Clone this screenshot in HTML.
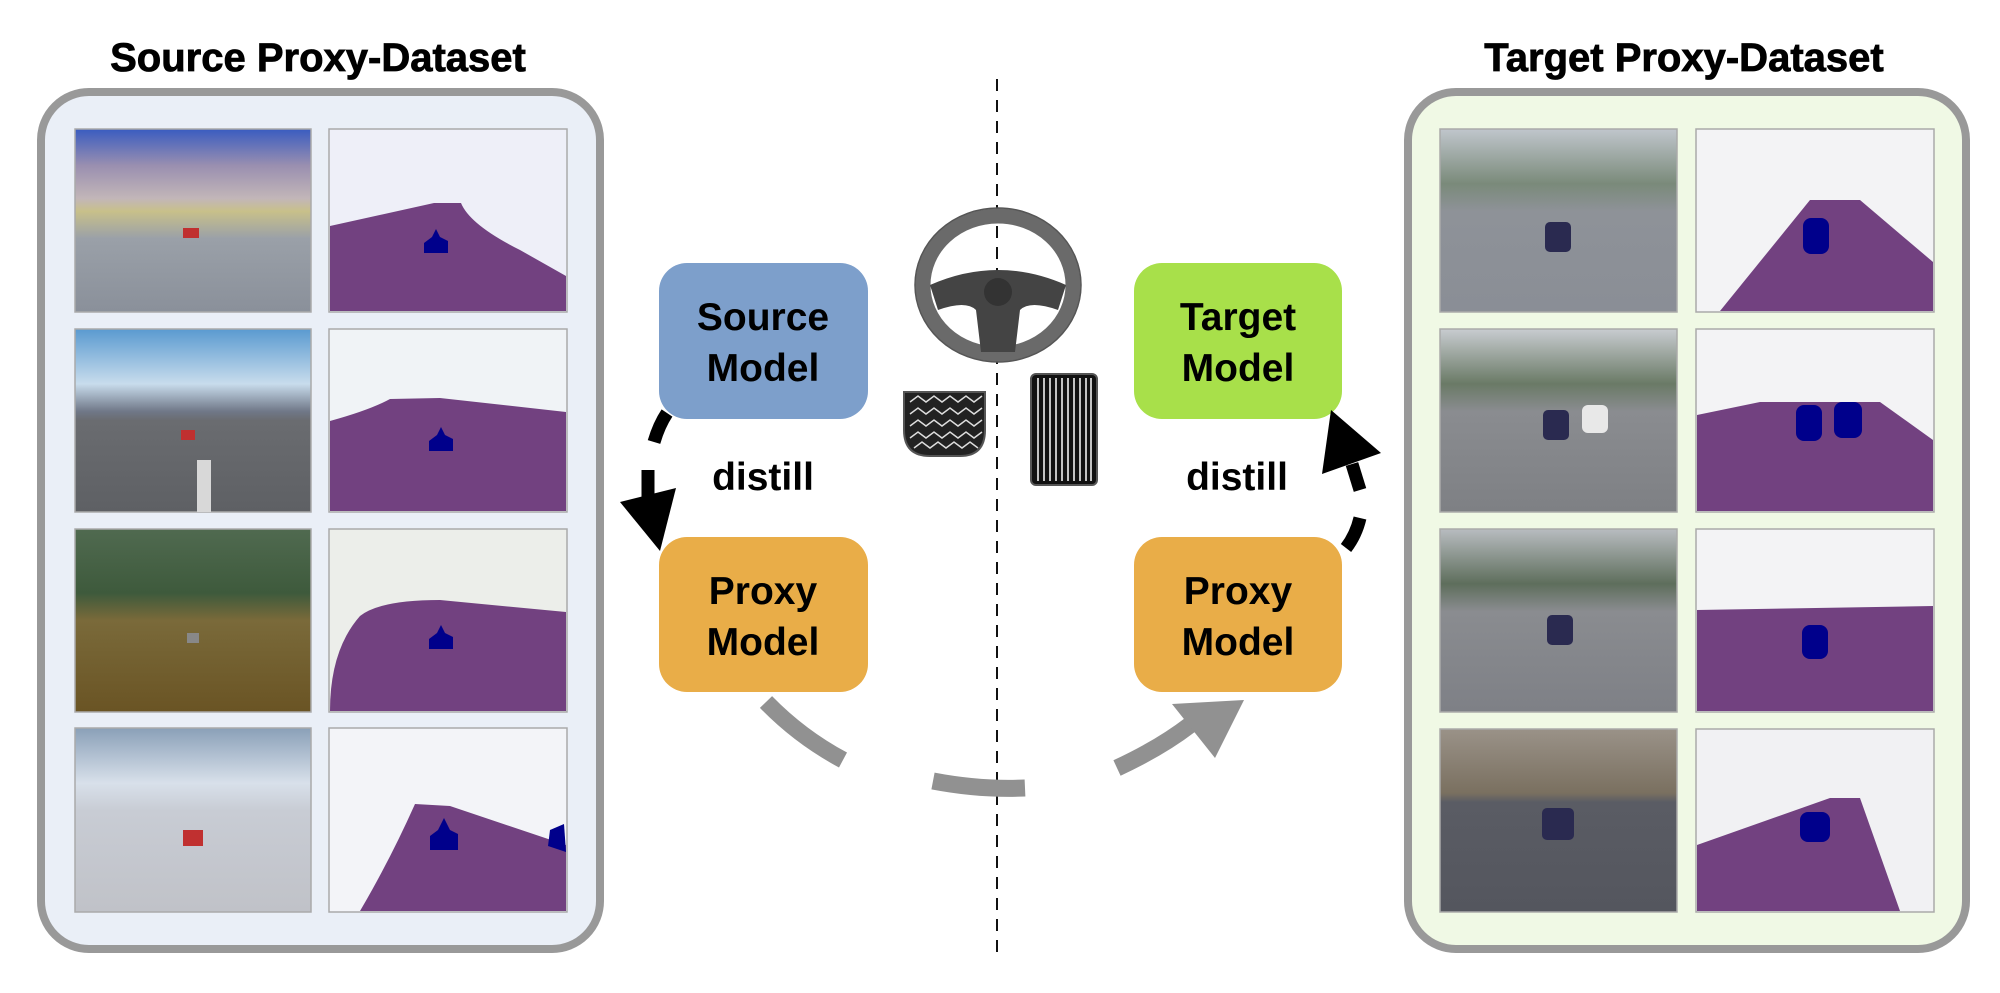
<!DOCTYPE html>
<html><head><meta charset="utf-8"><style>
html,body{margin:0;padding:0;background:#fff}
svg{display:block}
text{font-family:"Liberation Sans",Arial,sans-serif;font-weight:bold}
</style></head><body>
<svg width="2000" height="993" viewBox="0 0 2000 993" xmlns="http://www.w3.org/2000/svg">
<defs>
 <linearGradient id="p1" x1="0" y1="0" x2="0" y2="1"><stop offset="0" stop-color="#3a5cc0"/><stop offset="0.2" stop-color="#9a8fb0"/><stop offset="0.38" stop-color="#c2b6b8"/><stop offset="0.45" stop-color="#c8c08a"/><stop offset="0.6" stop-color="#9aa0a8"/><stop offset="1" stop-color="#8a909a"/></linearGradient>
 <linearGradient id="p2" x1="0" y1="0" x2="0" y2="1"><stop offset="0" stop-color="#5a9ad0"/><stop offset="0.3" stop-color="#c8dcec"/><stop offset="0.45" stop-color="#707888"/><stop offset="0.5" stop-color="#6a6c70"/><stop offset="1" stop-color="#5e6064"/></linearGradient>
 <linearGradient id="p3" x1="0" y1="0" x2="0" y2="1"><stop offset="0" stop-color="#506a50"/><stop offset="0.35" stop-color="#3e5a3c"/><stop offset="0.5" stop-color="#7a6a3a"/><stop offset="1" stop-color="#6a5424"/></linearGradient>
 <linearGradient id="p4" x1="0" y1="0" x2="0" y2="1"><stop offset="0" stop-color="#8aa0b8"/><stop offset="0.3" stop-color="#d8e0ea"/><stop offset="0.45" stop-color="#c8ccd4"/><stop offset="1" stop-color="#c0c2c8"/></linearGradient>
 <linearGradient id="t1" x1="0" y1="0" x2="0" y2="1"><stop offset="0" stop-color="#c0c6cc"/><stop offset="0.3" stop-color="#7a8a7a"/><stop offset="0.45" stop-color="#8e9298"/><stop offset="1" stop-color="#8a8e96"/></linearGradient>
 <linearGradient id="t2" x1="0" y1="0" x2="0" y2="1"><stop offset="0" stop-color="#c8ccd0"/><stop offset="0.3" stop-color="#6a7a66"/><stop offset="0.45" stop-color="#8a8c90"/><stop offset="1" stop-color="#7e8084"/></linearGradient>
 <linearGradient id="t3" x1="0" y1="0" x2="0" y2="1"><stop offset="0" stop-color="#b8bcc0"/><stop offset="0.3" stop-color="#5e6e5c"/><stop offset="0.45" stop-color="#8a8c90"/><stop offset="1" stop-color="#7e8086"/></linearGradient>
 <linearGradient id="t4" x1="0" y1="0" x2="0" y2="1"><stop offset="0" stop-color="#9a9288"/><stop offset="0.35" stop-color="#7a7060"/><stop offset="0.4" stop-color="#5a5c64"/><stop offset="1" stop-color="#54565e"/></linearGradient>
</defs>

<!-- titles -->
<text x="318" y="71" font-size="40" text-anchor="middle" stroke="#000" stroke-width="0.8">Source Proxy-Dataset</text>
<text x="1684" y="71" font-size="40" text-anchor="middle" stroke="#000" stroke-width="0.8">Target Proxy-Dataset</text>

<!-- panels -->
<rect x="41" y="92" width="559" height="857" rx="48" fill="#eaeff7" stroke="#999" stroke-width="8"/>
<rect x="1408" y="92" width="558" height="857" rx="48" fill="#f0f9e5" stroke="#999" stroke-width="8"/>

<!-- left images -->
<g stroke="#aaa" stroke-width="1.5">
 <rect x="75" y="129" width="236" height="183" fill="url(#p1)"/>
 <rect x="75" y="329" width="236" height="183" fill="url(#p2)"/>
 <rect x="75" y="529" width="236" height="183" fill="url(#p3)"/>
 <rect x="75" y="728" width="236" height="184" fill="url(#p4)"/>
 <rect x="329" y="129" width="238" height="183" fill="#eeeff8"/>
 <rect x="329" y="329" width="238" height="183" fill="#f0f3f6"/>
 <rect x="329" y="529" width="238" height="183" fill="#eceeea"/>
 <rect x="329" y="728" width="238" height="184" fill="#f3f4f8"/>
</g>
<g fill="#724180">
 <path d="M330 226 L434 203 L461 203 Q470 225 520 250 L566 276 L566 311 L330 311 Z"/>
 <path d="M330 421 Q370 410 390 399 L440 398 L566 412 L566 511 L330 511 Z"/>
 <path d="M360 616 Q380 600 440 600 L566 612 L566 711 L330 711 Q330 650 360 616 Z"/>
 <path d="M415 804 L450 806 L566 845 L566 911 L360 911 Q390 860 415 804 Z"/>
</g>
<g fill="#00008b">
 <path d="M432 237 l4 -8 l4 8 l8 4 l0 12 l-24 0 l0 -10 Z"/>
 <path d="M437 435 l4 -8 l4 8 l8 4 l0 12 l-24 0 l0 -10 Z"/>
 <path d="M437 633 l4 -8 l4 8 l8 4 l0 12 l-24 0 l0 -10 Z"/>
 <path d="M438 830 l6 -12 l6 12 l8 4 l0 16 l-28 0 l0 -14 Z"/>
 <path d="M550 830 l14 -6 l2 28 l-18 -6 Z"/>
</g>
<g fill="#c03030"><rect x="183" y="228" width="16" height="10"/><rect x="181" y="430" width="14" height="10"/><rect x="187" y="633" width="12" height="10" fill="#888"/><rect x="183" y="830" width="20" height="16"/></g>
<rect x="197" y="460" width="14" height="52" fill="#d8d8d8"/>

<!-- right images -->
<g stroke="#aaa" stroke-width="1.5">
 <rect x="1440" y="129" width="237" height="183" fill="url(#t1)"/>
 <rect x="1440" y="329" width="237" height="183" fill="url(#t2)"/>
 <rect x="1440" y="529" width="237" height="183" fill="url(#t3)"/>
 <rect x="1440" y="729" width="237" height="183" fill="url(#t4)"/>
 <rect x="1696" y="129" width="238" height="183" fill="#f3f3f5"/>
 <rect x="1696" y="329" width="238" height="183" fill="#f3f3f5"/>
 <rect x="1696" y="529" width="238" height="183" fill="#f3f3f5"/>
 <rect x="1696" y="729" width="238" height="183" fill="#f1f1f3"/>
</g>
<g fill="#724180">
 <path d="M1720 311 L1810 200 L1860 200 L1933 262 L1933 311 Z"/>
 <path d="M1697 415 L1760 402 L1880 402 L1933 440 L1933 511 L1697 511 Z"/>
 <path d="M1697 610 L1933 606 L1933 711 L1697 711 Z"/>
 <path d="M1697 845 L1830 798 L1860 798 L1900 911 L1697 911 Z"/>
</g>
<g fill="#00008b">
 <rect x="1803" y="218" width="26" height="36" rx="8"/>
 <rect x="1796" y="405" width="26" height="36" rx="8"/><rect x="1834" y="402" width="28" height="36" rx="8"/>
 <rect x="1802" y="625" width="26" height="34" rx="8"/>
 <rect x="1800" y="812" width="30" height="30" rx="8"/>
</g>
<g fill="#2a2a50"><rect x="1545" y="222" width="26" height="30" rx="5"/><rect x="1543" y="410" width="26" height="30" rx="5"/><rect x="1547" y="615" width="26" height="30" rx="5"/><rect x="1542" y="808" width="32" height="32" rx="5"/></g>
<rect x="1582" y="405" width="26" height="28" rx="6" fill="#e8e8e8"/>

<!-- dashed center line -->
<line x1="997" y1="79" x2="997" y2="958" stroke="#111" stroke-width="2" stroke-dasharray="12,9"/>

<!-- steering wheel -->
<ellipse cx="998" cy="285" rx="75" ry="69" fill="none" stroke="#6a6a6a" stroke-width="15"/>
<ellipse cx="998" cy="285" rx="83" ry="77" fill="none" stroke="#555" stroke-width="1.5"/>
<path d="M930 285 Q998 255 1066 285 L1058 310 Q1030 300 1020 310 L1015 352 L981 352 L976 310 Q966 300 938 310 Z" fill="#444"/>
<circle cx="998" cy="292" r="14" fill="#333"/>

<!-- pedals -->
<path d="M904 392 H985 V430 Q985 456 960 456 H930 Q904 456 904 430 Z" fill="#222" stroke="#555" stroke-width="2"/>
<g stroke="#ddd" stroke-width="1.5" fill="none">
 <path d="M910 402 l8 -6 l8 6 l8 -6 l8 6 l8 -6 l8 6 l8 -6 l8 6 l8 -6"/>
 <path d="M910 414 l8 -6 l8 6 l8 -6 l8 6 l8 -6 l8 6 l8 -6 l8 6 l8 -6"/>
 <path d="M910 426 l8 -6 l8 6 l8 -6 l8 6 l8 -6 l8 6 l8 -6 l8 6 l8 -6"/>
 <path d="M910 438 l8 -6 l8 6 l8 -6 l8 6 l8 -6 l8 6 l8 -6 l8 6 l8 -6"/>
 <path d="M914 448 l8 -6 l8 6 l8 -6 l8 6 l8 -6 l8 6 l8 -6 l8 6"/>
</g>
<rect x="1031" y="374" width="66" height="111" rx="5" fill="#111" stroke="#555" stroke-width="2"/>
<g stroke="#eee" stroke-width="1.6">
 <line x1="1038" y1="378" x2="1038" y2="481"/><line x1="1044" y1="378" x2="1044" y2="481"/><line x1="1050" y1="378" x2="1050" y2="481"/><line x1="1056" y1="378" x2="1056" y2="481"/><line x1="1062" y1="378" x2="1062" y2="481"/><line x1="1068" y1="378" x2="1068" y2="481"/><line x1="1074" y1="378" x2="1074" y2="481"/><line x1="1080" y1="378" x2="1080" y2="481"/><line x1="1086" y1="378" x2="1086" y2="481"/><line x1="1091" y1="378" x2="1091" y2="481"/>
</g>

<!-- model boxes -->
<rect x="659" y="263" width="209" height="156" rx="28" fill="#7d9fcb"/>
<rect x="1134" y="263" width="208" height="156" rx="28" fill="#a8e04a"/>
<rect x="659" y="537" width="209" height="155" rx="28" fill="#e9ad48"/>
<rect x="1134" y="537" width="208" height="155" rx="28" fill="#e9ad48"/>
<g font-size="39" text-anchor="middle" fill="#000">
 <text x="763" y="330">Source</text><text x="763" y="381">Model</text>
 <text x="1238" y="330">Target</text><text x="1238" y="381">Model</text>
 <text x="763" y="604">Proxy</text><text x="763" y="655">Model</text>
 <text x="1238" y="604">Proxy</text><text x="1238" y="655">Model</text>
 <text x="763" y="490">distill</text>
 <text x="1237" y="490">distill</text>
</g>

<!-- black arcs -->
<g stroke="#000" stroke-width="13" fill="none">
 <path d="M667 413 Q659 425 654 442"/>
 <line x1="648" y1="470" x2="648" y2="500"/>
 <path d="M1346 548 Q1356 535 1360 518"/>
 <path d="M1360 490 L1352 464"/>
</g>
<polygon points="620,502 676,488 660,551" fill="#000"/>
<polygon points="1322,474 1381,453 1331,410" fill="#000"/>

<!-- gray arc -->
<g stroke="#919191" stroke-width="17" fill="none">
 <path d="M766 702 Q800 737 843 760"/>
 <path d="M933 781 Q980 790 1025 788"/>
 <path d="M1117 768 Q1160 748 1190 725"/>
</g>
<polygon points="1172,704 1215,758 1244,700" fill="#919191"/>
</svg>
</body></html>
